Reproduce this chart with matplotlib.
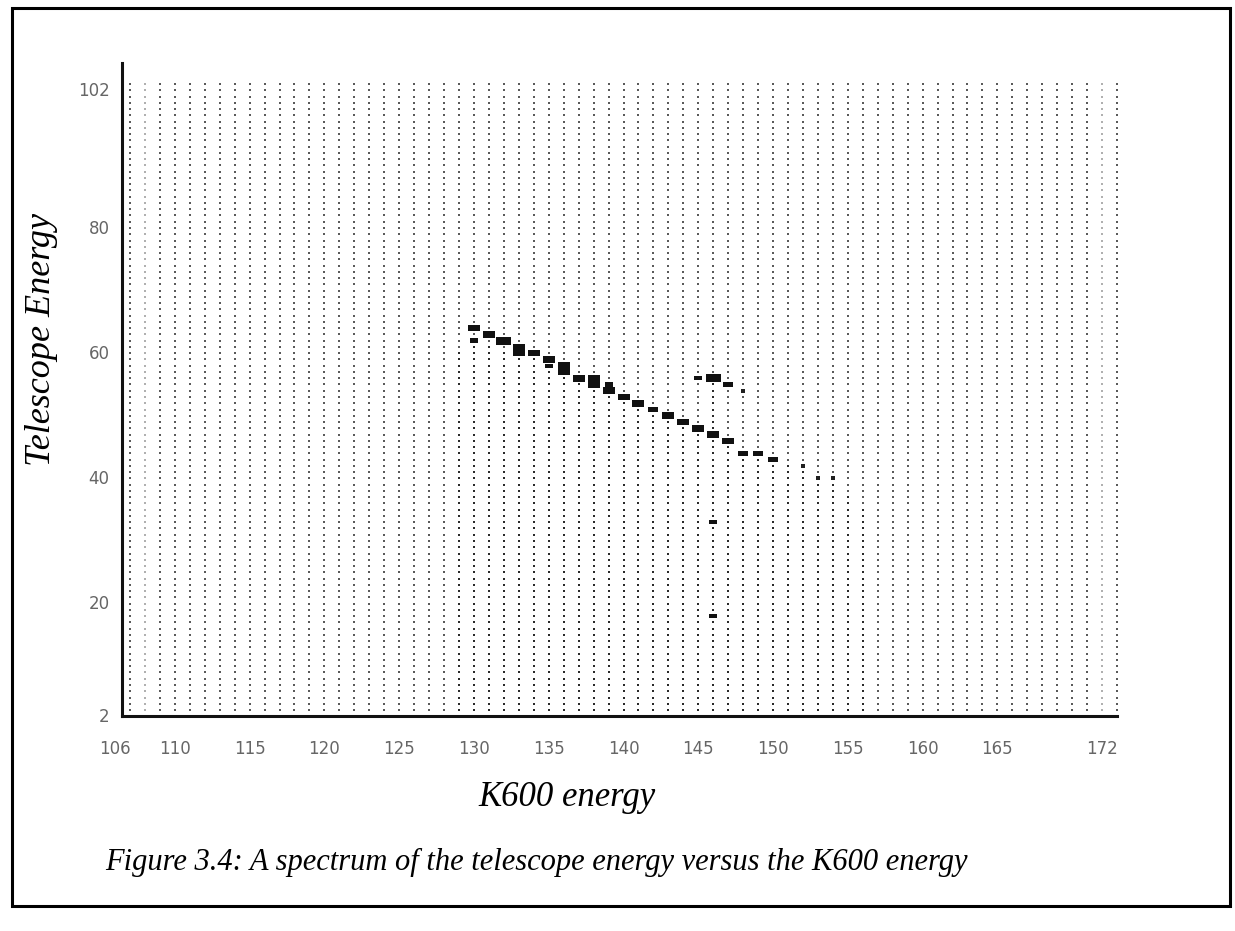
import matplotlib
matplotlib.use("Agg")
import matplotlib.pyplot as plt
import matplotlib.transforms as mtransforms
from matplotlib.markers import MarkerStyle
from matplotlib.path import Path
import numpy as np

# channel bins of the two-dimensional spectrum
k600_channels = np.arange(106, 173)
tel_channels = np.arange(2, 103)

# columns that the display shows almost empty
faint_cols = [107, 171]

# columns below the kinematic line with heavier counts, and the top row of that region
tail_cols = [128, 129, 130, 131, 132, 133, 134, 135, 136, 137, 138, 139, 140, 141,
             142, 143, 144, 145, 146, 147, 148, 149, 150, 151, 152, 153, 154, 155]
tail_top = [59, 60, 60, 59, 58, 58, 56, 55, 54, 53, 52, 51, 50, 49,
            48, 47, 46, 54, 44, 42, 42, 41, 41, 40, 39, 39, 36, 34]

# strong cells: K600 channel, telescope channel, intensity level
peak_k600 = [129, 130, 129, 131, 132, 132, 133, 134, 134, 135, 135, 136, 137, 137,
             138, 138, 139, 140, 141, 142, 143, 144, 145, 146, 147, 148, 149,
             144, 145, 146, 145, 145]
peak_tel = [63, 62, 61, 61, 60, 59, 59, 58, 57, 57, 56, 55, 55, 54,
            54, 53, 52, 51, 50, 49, 48, 47, 46, 45, 43, 43, 42,
            55, 55, 54, 32, 17]
peak_level = [2, 2, 1, 3, 2, 2, 2, 2, 1, 2, 2, 2, 2, 2,
              1, 2, 2, 2, 1.5, 2, 2, 2, 2, 2, 1.5, 1.5, 1.5,
              1, 3, 1.5, 1, 1]

# a few single darker cells past the end of the line
dark_k600 = [147, 151, 152, 153]
dark_tel = [53, 41, 39, 39]

x_ticks = [106, 110, 115, 120, 125, 130, 135, 140, 145, 150, 155, 160, 165, 172]
y_ticks = [102, 80, 60, 40, 20, 2]

fig = plt.figure(figsize=(12.35, 9.31), dpi=100)
ax = fig.add_axes([0.0988, 0.2309, 0.8057, 0.7014])

# background dot for every cell
gx, gy = np.meshgrid(k600_channels, tel_channels)
gx = gx.ravel()
gy = gy.ravel()
faint = np.isin(gx, faint_cols)
top_of = dict(zip(tail_cols, tail_top))
heavy = np.array([gy_ <= top_of.get(gx_, -1) for gx_, gy_ in zip(gx, gy)])
plain = ~faint & ~heavy

ax.scatter(gx[plain], gy[plain], s=2.4, marker="s", color="#5a5a5a",
           linewidths=0, clip_on=False)
ax.scatter(gx[faint], gy[faint], s=1.0, marker="s", color="#b0b0b0",
           linewidths=0, clip_on=False)
ax.scatter(gx[heavy], gy[heavy], s=4.5, marker="s", color="#2a2a2a",
           linewidths=0, clip_on=False)
ax.scatter(dark_k600, dark_tel, s=9, marker="s", color="#202020", linewidths=0)

# peaks drawn as flat rectangles, width scales with level
rect = Path([(-1, -0.55), (1, -0.55), (1, 0.55), (-1, 0.55), (-1, -0.55)],
            [Path.MOVETO, Path.LINETO, Path.LINETO, Path.LINETO, Path.CLOSEPOLY])
widths_px = {1: 8, 1.5: 10, 2: 12, 3: 15}
sizes = [(widths_px[lv] * 72 / 100) ** 2 for lv in peak_level]
ax.scatter(peak_k600, peak_tel, s=sizes, marker=MarkerStyle(rect),
           color="#111111", linewidths=0, zorder=3)

ax.set_xlim(105.47, 171.6)
ax.set_ylim(1.04, 105.35)
for side in ["top", "right"]:
    ax.spines[side].set_visible(False)
for side in ["left", "bottom"]:
    ax.spines[side].set_linewidth(2.2)
    ax.spines[side].set_color("#111111")

ax.set_xticks(x_ticks)
ax.set_xticklabels([str(v) for v in x_ticks])
ax.set_yticks(y_ticks)
ax.set_yticklabels([str(v) for v in y_ticks])
ax.tick_params(axis="x", length=0, pad=17, labelsize=12, labelcolor="#666666")
ax.tick_params(axis="y", length=0, pad=9, labelsize=12, labelcolor="#666666")

shift_x = mtransforms.ScaledTranslation(-0.15, 0, fig.dpi_scale_trans)
for lab in ax.get_xticklabels():
    lab.set_transform(lab.get_transform() + shift_x)
shift_y = mtransforms.ScaledTranslation(0, -0.05, fig.dpi_scale_trans)
for lab in ax.get_yticklabels():
    lab.set_transform(lab.get_transform() + shift_y)

serif = dict(family="Liberation Serif", style="italic", color="black")
fig.text(0.034, 0.635, "Telescope Energy", rotation=90, ha="center", va="center",
         fontsize=26, **serif)
fig.text(0.459, 0.143, "K600 energy", ha="center", va="center", fontsize=25, **serif)
fig.text(0.085, 0.074,
         "Figure 3.4: A spectrum of the telescope energy versus the K600 energy",
         ha="left", va="center", fontsize=22, **serif)

# page frame round the figure
fig.add_artist(plt.Rectangle((0.0097, 0.027), 0.9862, 0.9644, transform=fig.transFigure,
                             fill=False, edgecolor="black", linewidth=2.2))

fig.savefig("out.png", dpi=100)
